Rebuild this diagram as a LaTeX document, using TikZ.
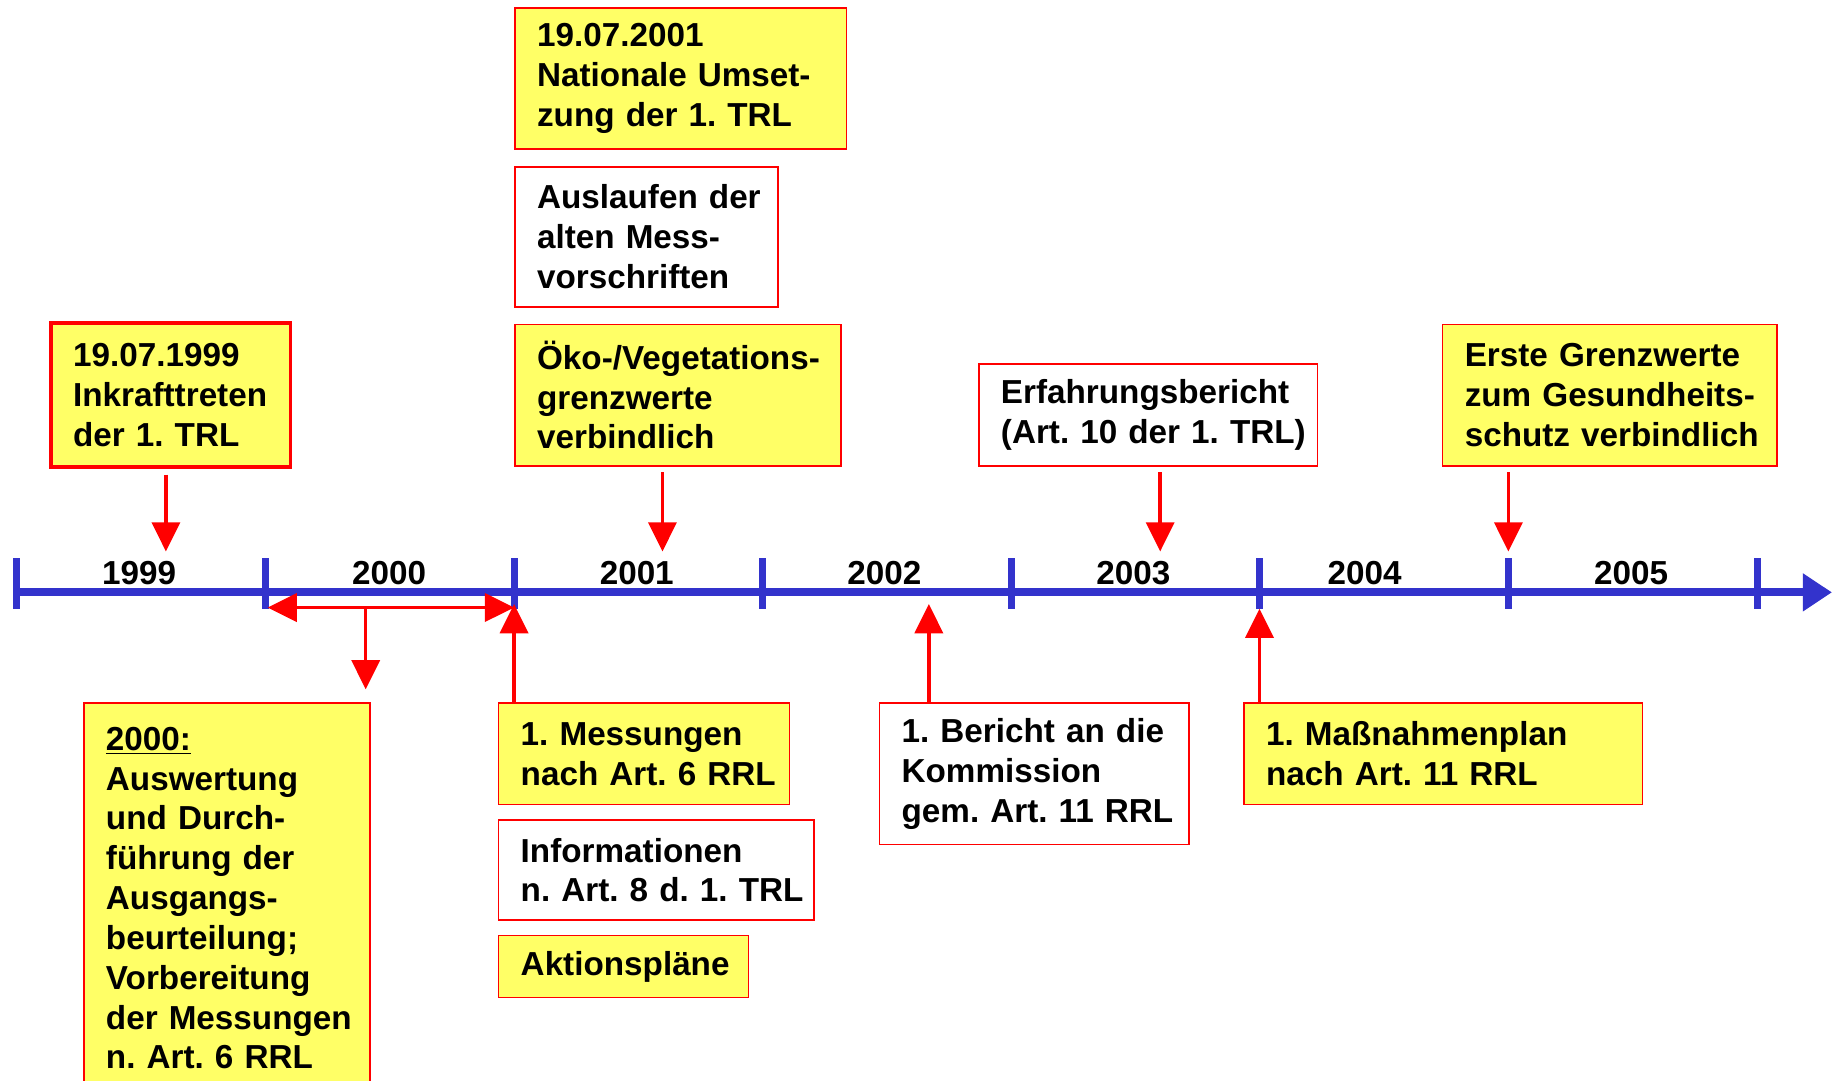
\documentclass[tikz,border=0pt]{standalone}
\usepackage{fontspec}
\setmainfont{Liberation Sans}
\usetikzlibrary{arrows.meta}
\definecolor{Gelb}{HTML}{FFFF66}
\definecolor{Rot}{HTML}{FF0000}
\definecolor{Blau}{HTML}{3333CC}

\tikzset{
  kasten/.style={draw=Rot,line width=.8pt,anchor=north west,inner xsep=0pt,inner ysep=0pt,
    align=left,execute at begin node={\leftskip=.38cm}},
  gelb/.style={kasten,fill=Gelb},
  weiss/.style={kasten,fill=white},
  pfeil/.style={draw=Rot,line width=1.7pt,-{Triangle[width=.48cm,length=.5cm]}},
  jahr/.style={anchor=base}
}

\begin{document}
\begin{tikzpicture}[x=.02cm,y=-.02cm,font=\bfseries\fontsize{16.2}{19.4}\selectfont\frenchspacing]
  \useasboundingbox (0,0) rectangle (1568,925);

  % Zeitachse
  \coordinate (achse0) at (14,507);
  \coordinate (achse1) at (1568,507);
  \foreach \x in {14,227,440,653,866,1078,1291,1504}
    \draw[Blau,line width=.12cm] (\x,478) -- (\x,521);
  \draw[Blau,line width=.14cm,-{Triangle[width=.62cm,length=.5cm]}] (achse0) -- (achse1);
  \foreach \j/\x in {1999/119,2000/333,2001/545,2002/757,2003/970,2004/1168,2005/1396}
    \node[jahr] (j\j) at (\x,500) {\j};

  % Kaesten oben
  \node[gelb,line width=1.8pt,text width=4.10cm,minimum height=2.46cm] (inkraft) at (42,275)
    {19.07.1999\\Inkrafttreten\\der 1. TRL};
  \node[gelb,text width=5.68cm,minimum height=2.42cm] (umsetz) at (440,6)
    {19.07.2001\\Nationale Umset-\\zung der 1. TRL};
  \node[weiss,text width=4.50cm,minimum height=2.40cm] (auslauf) at (440,142)
    {Auslaufen der\\alten Mess-\\vorschriften};
  \node[gelb,text width=5.58cm,minimum height=2.42cm] (oeko) at (440,277)
    {Öko-/Vegetations-\\grenzwerte\\verbindlich};
  \node[weiss,text width=5.80cm,minimum height=1.74cm] (erfahr) at (837,311)
    {Erfahrungsbericht\\(Art. 10 der 1. TRL)};
  \node[gelb,text width=5.72cm,minimum height=2.42cm] (erste) at (1234,277)
    {Erste Grenzwerte\\zum Gesundheits-\\schutz verbindlich};

  % Kaesten unten
  \node[gelb,text width=4.90cm,minimum height=6.68cm] (ausw) at (71,601)
    {\underline{2000:}\\Auswertung\\und Durch-\\führung der\\Ausgangs-\\beurteilung;\\Vorbereitung\\der Messungen\\n. Art. 6 RRL};
  \node[gelb,text width=4.98cm,minimum height=1.74cm] (mess) at (426,601)
    {1. Messungen\\nach Art. 6 RRL};
  \node[weiss,text width=5.40cm,minimum height=1.72cm] (info) at (426,701)
    {Informationen\\n. Art. 8 d. 1. TRL};
  \node[gelb,text width=4.28cm,minimum height=1.06cm] (aktion) at (426,800)
    {Aktionspläne};
  \node[weiss,text width=5.30cm,minimum height=2.42cm] (bericht) at (752,601)
    {1. Bericht an die\\Kommission\\gem. Art. 11 RRL};
  \node[gelb,text width=6.82cm,minimum height=1.74cm] (massn) at (1064,601)
    {1. Maßnahmenplan\\nach Art. 11 RRL};

  % Pfeile
  \coordinate (p1) at (142,472);
  \coordinate (p2) at (567,472);
  \coordinate (p3) at (993,472);
  \coordinate (p4) at (1291,472);
  \draw[pfeil,shorten <=.1cm] (inkraft.south -| p1) -- (p1);
  \draw[pfeil,shorten <=.1cm] (oeko.south -| p2) -- (p2);
  \draw[pfeil,shorten <=.1cm] (erfahr.south -| p3) -- (p3);
  \draw[pfeil,shorten <=.1cm] (erste.south -| p4) -- (p4);

  \coordinate (z0) at (229,520);
  \coordinate (z1) at (440,520);
  \coordinate (zm) at (313,520);
  \draw[pfeil,{Triangle[width=.48cm,length=.5cm]}-{Triangle[width=.48cm,length=.5cm]}] (z0) -- (z1);
  \draw[pfeil,shorten >=.22cm] (zm) -- (ausw.north -| zm);

  \coordinate (m1) at (440,517);
  \coordinate (m2) at (795,517);
  \coordinate (m3) at (1078,521);
  \draw[pfeil] (mess.north -| m1) -- (m1);
  \draw[pfeil] (bericht.north -| m2) -- (m2);
  \draw[pfeil] (massn.north -| m3) -- (m3);
\end{tikzpicture}
\end{document}
